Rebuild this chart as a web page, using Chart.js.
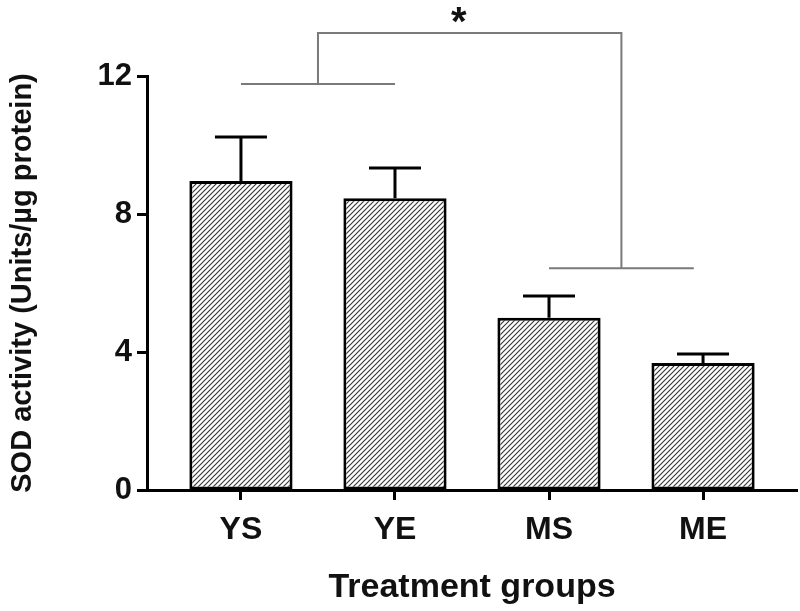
<!DOCTYPE html>
<html>
<head>
<meta charset="utf-8">
<script src="https://cdn.jsdelivr.net/npm/chart.js@4.4.1/dist/chart.umd.min.js"></script>
<style>
  body { margin: 0; background: #fff; }
</style>
</head>
<body>
<canvas id="sodChart" width="800" height="611"></canvas>
<script>
const groups = ["YS", "YE", "MS", "ME"];
const sodMean = [8.96, 8.46, 4.99, 3.68];
const sodErr = [1.27, 0.87, 0.63, 0.26];
const yTicks = [0, 4, 8, 12];

// significance bracket: YS/YE vs MS/ME
const leftPair = [0, 1];
const rightPair = [2, 2.94];
const leftLevel = 11.77;
const rightLevel = 6.43;
const topLevel = 13.25;

const font = "'Liberation Sans', Arial, sans-serif";

function hatch() {
  const c = document.createElement('canvas');
  c.width = 5; c.height = 5;
  const g = c.getContext('2d');
  g.fillStyle = '#fff';
  g.fillRect(0, 0, 5, 5);
  g.strokeStyle = '#3a3a3a';
  g.lineWidth = 1.2;
  g.beginPath();
  g.moveTo(-1, 6); g.lineTo(6, -1);
  g.moveTo(-3.5, 3.5); g.lineTo(3.5, -3.5);
  g.moveTo(1.5, 8.5); g.lineTo(8.5, 1.5);
  g.stroke();
  return g.createPattern(c, 'repeat');
}

const extras = {
  id: 'extras',
  afterDatasetsDraw(chart) {
    const ctx = chart.ctx;
    const x = chart.scales.x, y = chart.scales.y;

    // error bars (upper only)
    ctx.save();
    ctx.strokeStyle = '#000';
    ctx.lineWidth = 3;
    sodMean.forEach((m, i) => {
      const px = x.getPixelForValue(i);
      const top = y.getPixelForValue(m + sodErr[i]);
      ctx.beginPath();
      ctx.moveTo(px, y.getPixelForValue(m));
      ctx.lineTo(px, top);
      ctx.moveTo(px - 26, top);
      ctx.lineTo(px + 26, top);
      ctx.stroke();
    });
    ctx.restore();

    // bracket
    const lx1 = x.getPixelForValue(leftPair[0]), lx2 = x.getPixelForValue(leftPair[1]);
    const rx1 = x.getPixelForValue(rightPair[0]), rx2 = x.getPixelForValue(rightPair[1]);
    const ly = y.getPixelForValue(leftLevel), ry = y.getPixelForValue(rightLevel);
    const ty = y.getPixelForValue(topLevel);
    const lm = (lx1 + lx2) / 2, rm = (rx1 + rx2) / 2;
    ctx.save();
    ctx.strokeStyle = '#7a7a7a';
    ctx.lineWidth = 2;
    ctx.beginPath();
    ctx.moveTo(lx1, ly); ctx.lineTo(lx2, ly);
    ctx.moveTo(rx1, ry); ctx.lineTo(rx2, ry);
    ctx.moveTo(lm, ly); ctx.lineTo(lm, ty); ctx.lineTo(rm, ty); ctx.lineTo(rm, ry);
    ctx.stroke();
    ctx.fillStyle = '#111';
    ctx.font = "bold 40px " + font;
    ctx.textAlign = 'center';
    ctx.textBaseline = 'alphabetic';
    ctx.fillText('*', (lm + rm) / 2 - 11, ty + 2);
    ctx.restore();
  }
};

new Chart("sodChart", {
  type: 'bar',
  data: {
    datasets: [{
      data: sodMean.map((v, i) => ({ x: i, y: v })),
      backgroundColor: hatch(),
      borderColor: '#000',
      borderWidth: 3,
      borderSkipped: false,
      categoryPercentage: 1,
      barPercentage: 0.67
    }]
  },
  options: {
    responsive: false,
    animation: false,
    layout: { padding: { top: 76, right: 3, left: 0, bottom: 0 } },
    plugins: { legend: { display: false }, tooltip: { enabled: false } },
    scales: {
      x: {
        type: 'linear',
        offset: false,
        min: -0.61,
        max: 3.61,
        afterBuildTicks: s => { s.ticks = groups.map((g, i) => ({ value: i })); },
        afterFit: s => { s.height = 121; },
        ticks: {
          callback: v => groups[v],
          color: '#111',
          font: { family: font, size: 32, weight: 'bold' },
          padding: 11,
          maxRotation: 0
        },
        grid: { offset: false, drawOnChartArea: false, drawTicks: true, tickLength: 10, tickWidth: 3, tickColor: '#000' },
        border: { display: true, width: 3, color: '#000' },
        title: {
          display: true,
          text: 'Treatment groups',
          color: '#111',
          font: { family: font, size: 34, weight: 'bold' },
          padding: { top: 0, bottom: 3 }
        }
      },
      y: {
        min: 0,
        max: 12,
        afterBuildTicks: s => { s.ticks = yTicks.map(v => ({ value: v })); },
        afterFit: s => { s.width = 147; },
        ticks: {
          color: '#111',
          font: { family: font, size: 31, weight: 'bold' },
          padding: 5
        },
        grid: { drawOnChartArea: false, drawTicks: true, tickLength: 10, tickWidth: 3, tickColor: '#000' },
        border: { display: true, width: 3, color: '#000' },
        title: {
          display: true,
          text: 'SOD activity (Units/µg protein)',
          color: '#111',
          font: { family: font, size: 29, weight: 'bold' },
          padding: { top: 6, bottom: 0 }
        }
      }
    }
  },
  plugins: [extras]
});
</script>
</body>
</html>
